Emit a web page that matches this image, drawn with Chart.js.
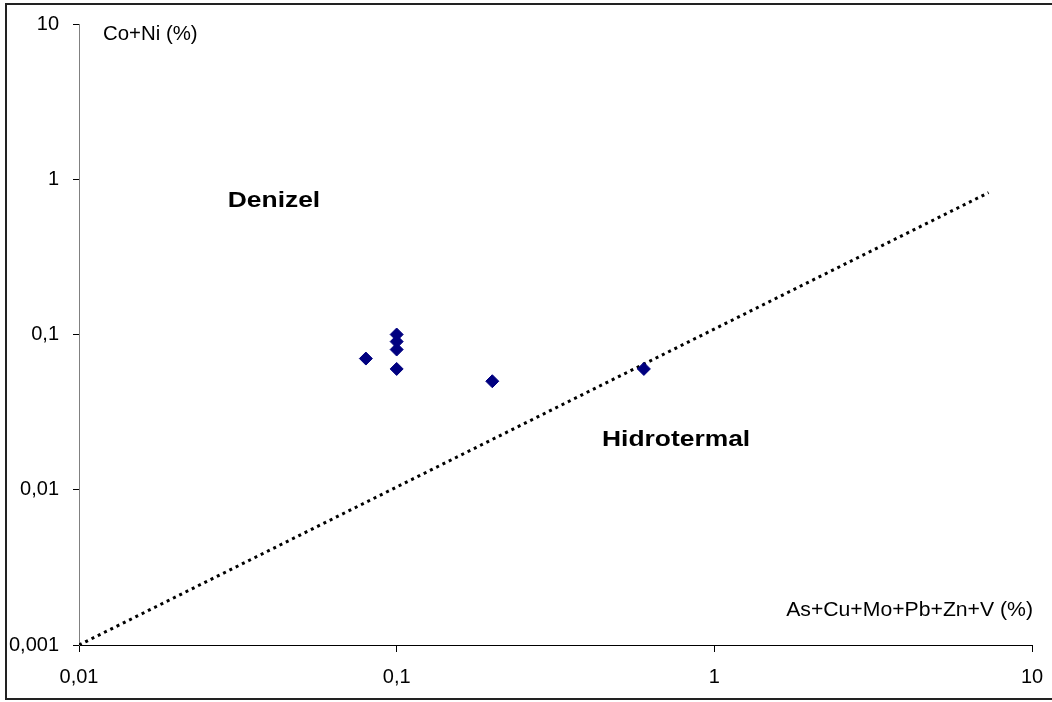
<!DOCTYPE html>
<html>
<head>
<meta charset="utf-8">
<script src="https://cdn.jsdelivr.net/npm/chart.js@4.4.1/dist/chart.umd.min.js"></script>
<style>
  html, body { margin: 0; padding: 0; background: #ffffff; }
  #wrap { position: relative; width: 1052px; height: 702px; }
  canvas { display: block; }
</style>
</head>
<body>
<div id="wrap"><canvas id="chart" width="1052" height="702"></canvas></div>
<script>
// Sample points: sum of As+Cu+Mo+Pb+Zn+V (%) vs Co+Ni (%)
const sampleX = [0.08, 0.1, 0.1, 0.1, 0.1, 0.2, 0.6];
const sampleY = [0.07, 0.1, 0.09, 0.08, 0.06, 0.05, 0.06];

// Dividing line between the two fields
const boundaryX = [0.01, 7.3];
const boundaryY = [0.001, 0.82];

// Decade tick values
const xTicks = [0.01, 0.1, 1, 10];
const yTicks = [0.001, 0.01, 0.1, 1, 10];

// Field labels, placed in data coordinates
const fieldNames = ['Denizel', 'Hidrotermal'];
const fieldX = [0.0294, 0.443];
const fieldY = [0.73, 0.0209];

const xTitle = 'As+Cu+Mo+Pb+Zn+V (%)';
const yTitle = 'Co+Ni (%)';

const FONT = '"Liberation Sans", Arial, sans-serif';

const fmt = v => String(v).replace('.', ',');

const points = sampleX.map((x, i) => ({ x, y: sampleY[i] }));
const boundary = boundaryX.map((x, i) => ({ x, y: boundaryY[i] }));

// draws text with a horizontal stretch, anchored at (x, y)
function stretchedText(ctx, text, x, y, align, sx) {
  ctx.save();
  ctx.translate(x, y);
  ctx.scale(sx, 1);
  ctx.textAlign = align;
  ctx.fillText(text, 0, 0);
  ctx.restore();
}

const decorations = {
  id: 'decorations',
  beforeDraw(chart) {
    const ctx = chart.ctx;
    ctx.save();
    ctx.fillStyle = '#ffffff';
    ctx.fillRect(0, 0, chart.width, chart.height);
    // frame around the chart (left, top, bottom edges)
    ctx.strokeStyle = '#222222';
    ctx.lineWidth = 2;
    ctx.beginPath();
    ctx.moveTo(chart.width + 2, 4);
    ctx.lineTo(6, 4);
    ctx.lineTo(6, 699);
    ctx.lineTo(chart.width + 2, 699);
    ctx.stroke();
    ctx.restore();
  },
  afterDatasetsDraw(chart) {
    const ctx = chart.ctx;
    const xs = chart.scales.x, ys = chart.scales.y;
    const area = chart.chartArea;
    ctx.save();
    ctx.fillStyle = '#000000';
    ctx.textBaseline = 'middle';
    // axis titles
    ctx.font = '20px ' + FONT;
    stretchedText(ctx, yTitle, area.left + 24, area.top + 10, 'left', 1.02);
    stretchedText(ctx, xTitle, area.right + 1, area.bottom - 35, 'right', 1.06);
    // field names
    ctx.font = 'bold 22px ' + FONT;
    fieldNames.forEach((name, i) => {
      stretchedText(ctx, name, xs.getPixelForValue(fieldX[i]), ys.getPixelForValue(fieldY[i]), 'left', 1.2);
    });
    ctx.restore();
  }
};

new Chart(document.getElementById('chart'), {
  type: 'scatter',
  data: {
    datasets: [
      {
        label: 'boundary',
        data: boundary,
        showLine: true,
        borderColor: '#000000',
        borderWidth: 3,
        borderDash: [3, 4],
        borderCapStyle: 'butt',
        pointRadius: 0,
        fill: false,
        order: 2
      },
      {
        label: 'samples',
        data: points,
        pointStyle: 'rectRot',
        pointRadius: 6.5,
        pointHoverRadius: 6.5,
        backgroundColor: '#000080',
        borderColor: '#000080',
        borderWidth: 1,
        order: 1
      }
    ]
  },
  options: {
    responsive: false,
    animation: false,
    events: [],
    layout: { padding: { left: 0, right: 20, top: 24, bottom: 0 } },
    plugins: {
      legend: { display: false },
      tooltip: { enabled: false }
    },
    scales: {
      x: {
        type: 'logarithmic',
        min: 0.01,
        max: 10,
        afterBuildTicks: s => { s.ticks = xTicks.map(v => ({ value: v })); },
        afterFit: s => { s.height = 57; s.paddingLeft = 0; s.paddingRight = 0; },
        border: { display: true, color: '#000000', width: 1 },
        grid: { drawOnChartArea: false, drawTicks: true, tickLength: 7, color: '#000000' },
        ticks: {
          color: '#000000',
          padding: 13,
          maxRotation: 0,
          autoSkip: false,
          font: { family: FONT, size: 20 },
          callback: v => fmt(v)
        }
      },
      y: {
        type: 'logarithmic',
        min: 0.001,
        max: 10,
        afterBuildTicks: s => { s.ticks = yTicks.map(v => ({ value: v })); },
        afterFit: s => { s.width = 79; s.paddingTop = 0; s.paddingBottom = 0; },
        border: { display: true, color: '#808080', width: 1 },
        grid: { drawOnChartArea: false, drawTicks: true, tickLength: 6, color: '#000000' },
        ticks: {
          color: '#000000',
          padding: 14,
          autoSkip: false,
          font: { family: FONT, size: 20 },
          callback: v => fmt(v)
        }
      }
    }
  },
  plugins: [decorations]
});
</script>
</body>
</html>
